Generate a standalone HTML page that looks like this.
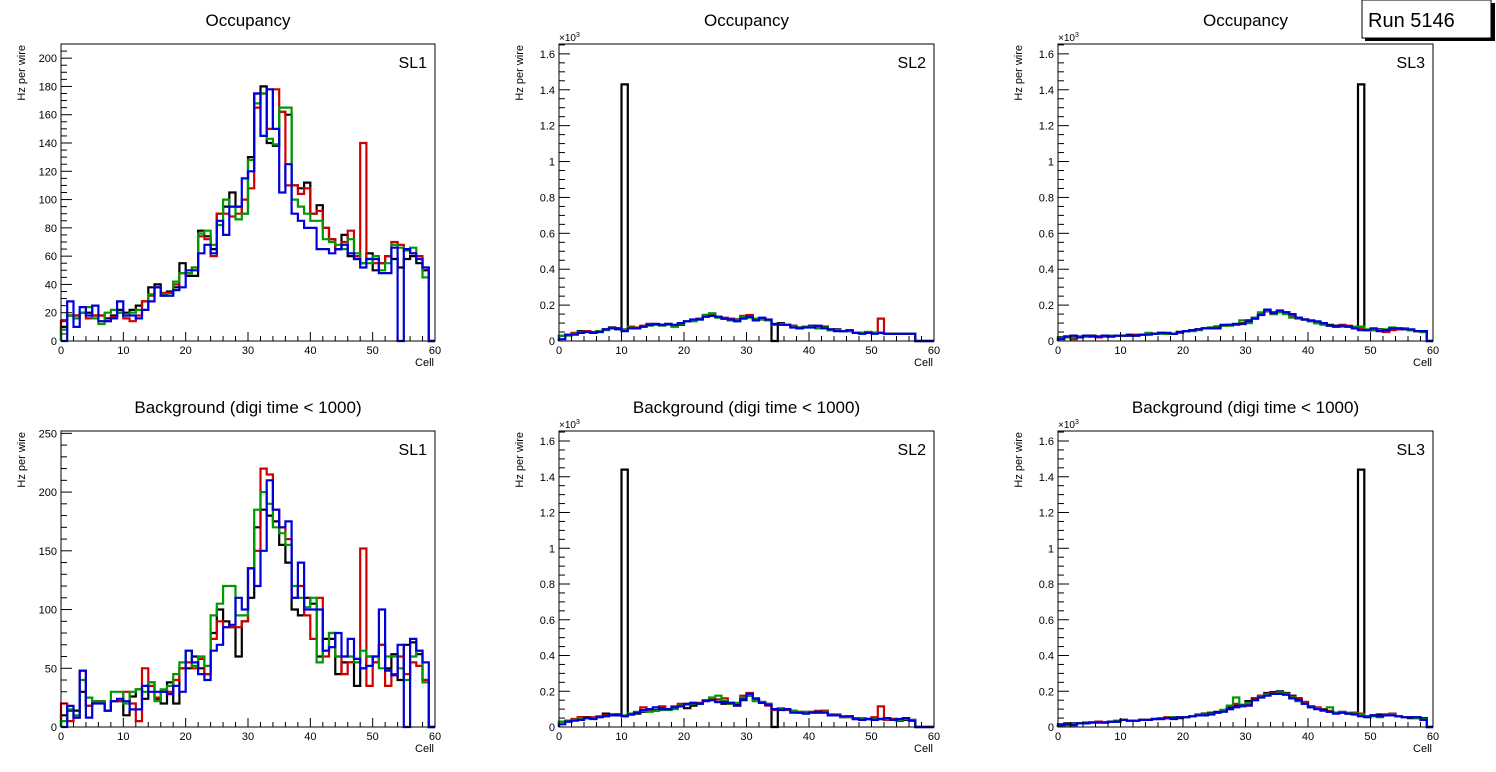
<!DOCTYPE html>
<html><head><meta charset="utf-8"><style>
html,body{margin:0;padding:0;background:#fff;}
svg{display:block;font-family:"Liberation Sans",sans-serif;}
</style></head><body>
<svg id="c" width="1496" height="772" viewBox="0 0 1496 772">
<g>
<rect x="1365" y="3" width="130" height="38" fill="#000"/>
<rect x="1362" y="0" width="129" height="38" fill="#fff" stroke="#000" stroke-width="1"/>
<text x="1368" y="27" font-size="20">Run 5146</text>
</g>
</svg>
<script>
const cells = [0,60];
// Panel 1: Occupancy SL1
const occSL1Black=[10,18,18,20,20,18,18,16,18,22,20,22,25,28,38,40,32,35,38,55,46,46,78,74,65,90,95,105,95,90,130,175,180,140,138,162,160,110,108,112,90,96,80,72,65,75,60,58,55,62,50,55,60,58,52,58,60,55,50,0];
const occSL1Red=[14,18,18,20,16,18,18,14,17,20,16,14,18,28,32,38,34,34,40,48,48,52,74,72,60,90,90,88,90,100,108,165,175,150,178,162,110,110,104,108,90,92,80,72,65,70,78,60,140,58,55,55,60,70,68,65,62,60,52,0];
const occSL1Green=[8,18,16,20,24,16,12,20,22,20,18,20,22,22,33,38,33,32,42,48,48,52,76,78,68,82,100,95,86,90,128,168,175,143,139,165,165,100,95,90,85,85,72,70,68,65,72,62,55,55,60,50,55,68,66,64,66,58,45,0];
const occSL1Blue=[0,28,10,24,18,25,14,14,16,28,18,18,16,22,28,38,32,32,36,38,50,50,62,68,62,85,75,95,95,115,120,175,145,178,150,105,125,90,85,80,80,65,65,62,65,68,62,58,52,58,58,48,48,66,0,65,62,58,52,0];
// Panel 2: Occupancy SL2
const occSL2Black=[30,35,40,55,55,45,55,65,75,65,1430,75,70,80,95,95,90,95,85,90,110,115,125,140,150,135,125,115,120,130,135,120,125,115,0,100,90,85,75,80,85,75,80,60,65,55,55,45,45,45,45,45,40,40,40,40,40,0,0,0];
const occSL2Red=[30,35,45,50,55,50,55,65,70,70,65,80,75,85,95,90,90,95,80,95,110,115,125,145,150,135,130,125,115,140,145,125,120,115,90,95,90,85,75,80,80,75,75,65,60,55,60,45,45,50,45,125,40,40,40,40,40,0,0,0];
const occSL2Green=[30,30,40,50,50,45,55,60,70,70,65,75,70,80,85,90,85,90,80,95,110,110,120,145,155,130,125,115,115,135,130,125,120,115,95,95,90,80,75,80,80,70,75,60,60,55,55,45,45,50,45,45,40,40,40,40,40,0,0,0];
const occSL2Blue=[10,35,35,45,50,45,50,65,70,70,55,70,70,80,90,95,90,95,90,100,110,120,120,135,140,135,125,120,110,125,135,115,130,120,95,90,90,75,70,75,75,85,70,65,55,55,60,45,40,45,40,45,40,40,40,40,40,0,0,0];
// Panel 3: Occupancy SL3
const occSL3Black=[20,25,20,25,25,30,25,25,25,30,30,35,30,35,40,40,45,40,40,50,55,60,65,70,75,80,85,90,95,100,115,130,150,170,160,165,160,145,130,120,110,100,95,90,85,85,80,75,1430,60,60,65,55,65,65,65,60,55,55,0];
const occSL3Red=[15,25,10,25,25,25,20,25,25,30,30,30,35,35,40,40,45,40,40,50,55,60,65,70,70,75,85,90,90,100,110,125,150,165,155,160,160,140,130,120,110,105,95,85,80,90,85,75,70,60,60,60,50,60,65,70,60,55,50,0];
const occSL3Green=[15,20,20,25,25,25,25,25,30,30,30,30,30,35,45,40,40,40,40,45,55,55,60,70,75,75,85,85,90,115,100,130,160,170,150,160,150,130,125,120,110,100,90,85,80,80,80,80,80,65,60,60,65,75,70,65,60,55,50,0];
const occSL3Blue=[10,25,30,20,30,25,25,30,25,30,30,30,30,35,35,40,45,45,40,50,55,60,65,70,70,70,90,90,95,95,110,125,145,175,155,170,160,150,130,120,115,110,100,85,80,85,80,70,60,60,70,55,60,70,70,65,65,55,55,0];
// Panel 4: Background SL1
const bkgSL1Black=[10,14,14,30,18,22,22,14,22,22,10,26,32,24,38,24,20,38,20,50,50,60,50,45,80,100,90,85,60,90,110,170,185,180,175,155,140,100,95,110,105,60,75,75,45,55,55,35,50,60,55,70,50,62,40,70,72,62,40,0];
const bkgSL1Red=[20,5,8,48,18,22,22,14,22,22,30,20,5,50,35,25,30,30,40,50,55,50,58,45,75,90,85,85,85,90,135,150,220,215,185,170,160,110,120,95,75,110,60,80,60,45,55,55,152,35,55,70,35,45,60,45,55,52,40,0];
const bkgSL1Green=[5,15,10,40,25,22,22,14,30,30,20,30,32,30,38,22,32,35,45,55,65,52,60,52,95,105,120,120,95,95,135,185,200,190,170,165,155,120,110,102,110,55,65,80,60,60,60,55,65,60,60,50,60,60,50,40,60,65,38,0];
const bkgSL1Blue=[0,18,8,48,8,20,20,14,22,24,22,15,15,35,30,30,30,28,35,30,65,55,45,40,65,70,85,87,110,100,135,120,150,210,185,170,175,110,140,100,100,100,65,68,80,60,75,58,50,52,60,100,48,44,70,0,75,65,55,0];
// Panel 5: Background SL2
const bkgSL2Black=[30,35,40,55,55,50,60,75,70,65,1440,70,75,85,95,95,110,100,110,120,105,120,130,150,150,140,130,135,130,150,175,150,140,130,0,100,100,90,80,80,85,80,90,70,65,55,60,45,50,45,50,45,40,45,35,40,35,0,0,0];
const bkgSL2Red=[30,30,45,55,50,55,55,65,65,70,60,75,80,110,95,90,115,100,115,130,130,135,135,150,155,155,160,130,120,175,190,150,135,120,95,100,95,90,85,85,85,90,90,70,70,55,55,45,50,45,55,115,40,45,40,50,40,0,0,0];
const bkgSL2Green=[30,35,40,50,50,50,60,60,65,70,65,75,85,90,85,90,95,95,100,120,125,130,130,150,165,175,145,130,135,165,175,145,140,130,100,105,100,90,85,85,80,85,85,70,65,55,55,50,50,45,45,45,45,40,40,45,40,0,0,0];
const bkgSL2Blue=[15,30,35,40,50,45,55,60,65,70,60,70,80,95,100,110,100,100,110,115,130,135,130,145,150,140,140,135,120,155,185,160,135,125,100,95,100,80,80,75,80,85,80,65,65,60,60,45,40,45,40,45,50,40,45,50,35,0,0,0];
// Panel 6: Background SL3
const bkgSL3Black=[15,20,20,20,25,25,30,25,30,30,40,35,35,40,40,45,50,50,45,50,55,60,70,75,80,85,95,110,120,120,145,160,175,190,195,200,190,175,160,140,115,105,95,85,80,80,75,80,1440,60,65,70,70,70,60,55,50,50,50,0];
const bkgSL3Red=[10,15,15,20,20,25,30,25,30,35,40,35,35,40,40,45,45,55,55,55,55,60,65,70,75,80,90,100,130,115,130,155,175,185,190,195,185,170,155,140,115,110,100,90,80,85,75,80,75,60,65,60,70,75,60,55,55,55,45,0];
const bkgSL3Green=[10,10,15,20,25,25,25,25,30,35,40,35,35,40,40,45,50,50,55,55,55,60,70,70,75,80,95,120,165,125,135,150,170,180,185,190,185,165,145,130,110,105,90,110,80,85,80,75,70,55,60,55,65,70,60,55,55,50,45,0];
const bkgSL3Blue=[10,15,10,20,20,25,25,25,30,30,40,35,35,40,40,45,45,50,50,55,55,60,65,65,70,80,85,100,110,120,120,150,165,175,185,185,180,160,150,130,110,100,95,85,75,80,75,70,60,55,65,60,65,65,60,55,55,55,40,0];
const xTickLabels=["0","10","20","30","40","50","60"];
const ySL1TopTicks=["0","20","40","60","80","100","120","140","160","180","200"];
const ySL1BotTicks=["0","50","100","150","200","250"];
const yKiloTicks=["0","0.2","0.4","0.6","0.8","1","1.2","1.4","1.6"];

const NS="http://www.w3.org/2000/svg";
const svg=document.getElementById('c');
function mk(tag,attrs,parent){const e=document.createElementNS(NS,tag);for(const k in attrs)e.setAttribute(k,attrs[k]);(parent||svg).appendChild(e);return e;}

const panels=[
 {x0:61,x1:435,y0:44,y1:341,ymax:210,title:"Occupancy",sl:"SL1",series:[occSL1Black,occSL1Red,occSL1Green,occSL1Blue],ticks:ySL1TopTicks,major:20,minor:5,kilo:false,id:"occ-sl1"},
 {x0:559,x1:934,y0:44,y1:341,ymax:1655,title:"Occupancy",sl:"SL2",series:[occSL2Black,occSL2Red,occSL2Green,occSL2Blue],ticks:yKiloTicks,major:200,minor:50,kilo:true,id:"occ-sl2"},
 {x0:1058,x1:1433,y0:44,y1:341,ymax:1655,title:"Occupancy",sl:"SL3",series:[occSL3Black,occSL3Red,occSL3Green,occSL3Blue],ticks:yKiloTicks,major:200,minor:50,kilo:true,id:"occ-sl3"},
 {x0:61,x1:435,y0:431,y1:727,ymax:252,title:"Background (digi time < 1000)",sl:"SL1",series:[bkgSL1Black,bkgSL1Red,bkgSL1Green,bkgSL1Blue],ticks:ySL1BotTicks,major:50,minor:10,kilo:false,id:"bkg-sl1"},
 {x0:559,x1:934,y0:431,y1:727,ymax:1656,title:"Background (digi time < 1000)",sl:"SL2",series:[bkgSL2Black,bkgSL2Red,bkgSL2Green,bkgSL2Blue],ticks:yKiloTicks,major:200,minor:50,kilo:true,id:"bkg-sl2"},
 {x0:1058,x1:1433,y0:431,y1:727,ymax:1656,title:"Background (digi time < 1000)",sl:"SL3",series:[bkgSL3Black,bkgSL3Red,bkgSL3Green,bkgSL3Blue],ticks:yKiloTicks,major:200,minor:50,kilo:true,id:"bkg-sl3"}
];
const colors=["#000000","#d00000","#009900","#0000dd"];
const cnames=["black","red","green","blue"];

panels.forEach(p=>{
 const g=mk('g',{});
 
 
 const xs=v=>p.x0+(v-cells[0])/(cells[1]-cells[0])*(p.x1-p.x0);
 const ys=v=>p.y1-Math.min(v,p.ymax)/p.ymax*(p.y1-p.y0);
 const cx=(p.x0+p.x1)/2;
 const t=mk('text',{x:cx,y:p.y0-18,'font-size':17,'text-anchor':'middle'},g);t.textContent=p.title;
 
 
 // series
 p.series.forEach((arr,si)=>{
  let d='M'+xs(0)+','+ys(0);
  arr.forEach((v,i)=>{d+=' V'+ys(v).toFixed(1)+' H'+xs(i+1).toFixed(1);});
  d+=' V'+ys(0);
  const path=mk('path',{d:d,fill:'none',stroke:colors[si],'stroke-width':2.2},g);
  
  
 });
 // frame
 const fr=mk('rect',{x:p.x0,y:p.y0,width:p.x1-p.x0,height:p.y1-p.y0,fill:'none',stroke:'#000','stroke-width':1},g);
 
 
 // x ticks
 for(let v=0;v<=60;v+=2){const L=(v%10===0)?9:5;mk('line',{x1:xs(v),x2:xs(v),y1:p.y1,y2:p.y1-L,stroke:'#000','stroke-width':1},g);}
 xTickLabels.forEach((s,i)=>{const tx=mk('text',{x:xs(i*10),y:p.y1+13,'font-size':11,'text-anchor':'middle'},g);tx.textContent=s;
  
  });
 // y ticks
 for(let v=0;v<=p.ymax;v+=p.minor){const L=(v%p.major===0)?11:6;mk('line',{x1:p.x0,x2:p.x0+L,y1:ys(v),y2:ys(v),stroke:'#000','stroke-width':1},g);}
 p.ticks.forEach((s,i)=>{const ty=mk('text',{x:p.x0-4,y:ys(i*p.major)+4,'font-size':11,'text-anchor':'end'},g);ty.textContent=s;
  
  });
 // labels
 const xl=mk('text',{x:p.x1-1,y:p.y1+25,'font-size':11,'text-anchor':'end'},g);xl.textContent='Cell';
 
 
 const yl=mk('text',{x:0,y:0,'font-size':11,'text-anchor':'end',transform:'translate('+(p.x0-36)+','+(p.y0+1)+') rotate(-90)'},g);yl.textContent='Hz per wire';
 
 
 const sl=mk('text',{x:p.x1-8,y:p.y0+24,'font-size':16,'text-anchor':'end'},g);sl.textContent=p.sl;
 
 
 if(p.kilo){const k=mk('text',{x:p.x0,y:p.y0-3,'font-size':10},g);k.innerHTML='×10<tspan dy="-4" font-size="7">3</tspan>';
  
  }
});
</script>
</body></html>
